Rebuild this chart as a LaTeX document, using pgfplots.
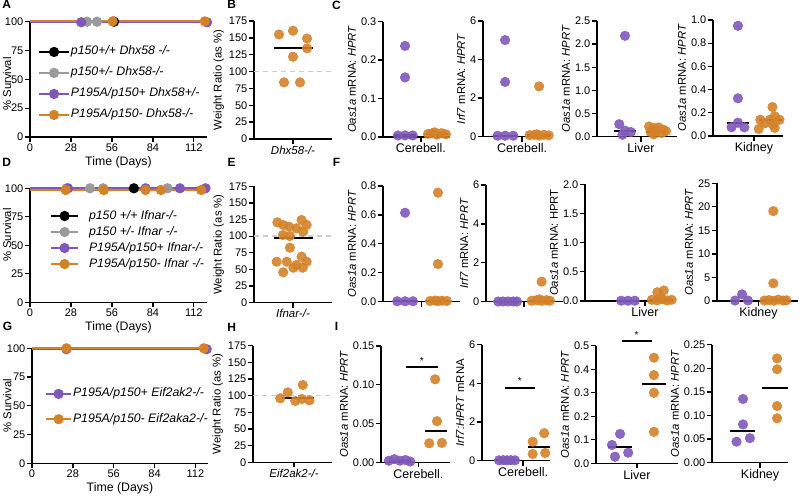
\documentclass[border=0pt]{standalone}
\usepackage{pgfplots}
\pgfplotsset{compat=1.18}
\usepackage{fontspec}
\setmainfont{Liberation Sans}
\definecolor{gpur}{RGB}{128,88,186}
\definecolor{gora}{RGB}{212,130,40}
\definecolor{ggry}{RGB}{155,155,155}
\definecolor{gdash}{RGB}{205,205,205}
\newcommand{\fsz}{\fontsize{11}{13}\selectfont}
\pgfplotsset{
  gp/.style={
    scale only axis, clip=false, anchor=south west,
    axis x line*=bottom, axis y line*=left,
    axis line style={line width=1.5pt, -},
    xtick pos=bottom, ytick pos=left,
    tick align=outside, major tick length=5pt,
    every tick/.style={black, line width=1.3pt},
    tick label style={font=\fsz, inner sep=1.5pt},
    ylabel style={font=\fontsize{11.3}{13}\selectfont},
    xlabel style={font=\fontsize{12.3}{14}\selectfont},
    /pgf/number format/assume math mode=true,
    ymin=0,
  },
  cat/.style={xtick={1.5}, xticklabels={#1}, xticklabel style={font=\fontsize{12.5}{14}\selectfont}},
  dots/.style={color=#1, only marks, mark=*, mark size=4.8pt, mark options={draw=none, fill=#1, fill opacity=0.9}},
  med/.style={black, line width=2pt},
  sig/.style={black, line width=1.5pt},
  surv/.style={color=#1, line width=1.8pt, mark=*, mark size=4.2pt, mark options={solid, draw=none, fill=#1}},
  survleg/.style={legend style={draw=none, fill=none, inner sep=0pt,
      font=\fontsize{12.3}{14}\selectfont\itshape,
      nodes={inner sep=1pt, text height=9pt, text depth=3pt}},
    legend cell align=left},
  wr/.style={gp, xmin=-1, xmax=1, ymax=175, ytick={0,25,50,75,100,125,150,175},
    xtick={0}, ylabel={Weight Ratio (as \%)}, xticklabel style={font=\fontsize{11.5}{13}\selectfont\itshape}},
  fix1/.style={yticklabel style={/pgf/number format/.cd, fixed, fixed zerofill, precision=1}},
  fix2/.style={yticklabel style={/pgf/number format/.cd, fixed, fixed zerofill, precision=2}},
}
\begin{document}
\begin{tikzpicture}
\path[use as bounding box] (0pt,0pt) rectangle (800pt,495pt);

% ---------------- A ----------------
\begin{axis}[gp, survleg, at={(30pt,358pt)}, width=177pt, height=115.3pt,
  xmin=0, xmax=121, ymax=100, xtick={0,28,56,84,112}, ytick={0,25,50,75,100},
  xlabel={Time (Days)}, ylabel={\% Survival},
  ylabel style={at={(axis description cs:-0.13,0.46)}, anchor=center},
  legend style={at={(axis description cs:0.045,0.80)}, anchor=north west, row sep=7pt},
  legend image code/.code={\draw[#1, mark indices={2}] plot coordinates {(0pt,0pt) (15pt,0pt) (30pt,0pt)};}]
\addplot[surv=black, mark indices={2}] coordinates {(0,100) (57.5,100)};
\addlegendentry{p150+/+ Dhx58 -/-}
\addplot[surv=ggry, mark indices={2,3}] coordinates {(0,100) (39,100) (45.8,100)};
\addlegendentry{p150+/- Dhx58-/-}
\addplot[surv=gpur, mark indices={2,3}] coordinates {(0,99.5) (35,99.5) (121,99.5)};
\addlegendentry{P195A/p150+ Dhx58+/-}
\addplot[surv=gora, mark indices={2,3}] coordinates {(0,100.3) (56.5,100.3) (119.5,100.3)};
\addlegendentry{P195A/p150- Dhx58-/-}
\end{axis}

% ---------------- B ----------------
\begin{axis}[wr, at={(254pt,356pt)}, width=78pt, height=118pt,
  xticklabels={Dhx58-/-}]
\addplot[gdash, line width=1.5pt, dash pattern=on 5pt off 4pt] coordinates {(-1,100) (1,100)};
\addplot[dots=gora] coordinates {(-0.36,155) (0,160.6) (0.36,149) (0.36,134.5) (0,122) (-0.23,84) (0.18,84)};
\addplot[med] coordinates {(-0.5,134.5) (0.5,134.5)};
\end{axis}

% ---------------- C1 ----------------
\begin{axis}[gp, fix1, cat={Cerebell.}, at={(383pt,358pt)}, width=67pt, height=115.3pt,
  xmin=0.31, xmax=2.41, ymax=0.3, ytick={0,0.1,0.2,0.3},
  ylabel={\textit{Oas1a} mRNA: \textit{HPRT}}]
\addplot[dots=gpur] coordinates {(1,0.237) (1,0.155) (0.78,0.004) (1,0.004) (1.24,0.004)};
\addplot[dots=gora] coordinates {(1.72,0.008) (1.86,0.01) (2,0.006) (2.14,0.01) (2.28,0.007) (1.93,0.012)};
\addplot[med] coordinates {(0.65,0.004) (1.35,0.004)};
\addplot[med] coordinates {(1.65,0.008) (2.35,0.008)};
\end{axis}

% ---------------- C2 ----------------
\begin{axis}[gp, cat={Cerebell.}, at={(483pt,358.3pt)}, width=67pt, height=115.7pt,
  xmin=0.35, xmax=2.32, ymax=6, ytick={0,2,4,6},
  ylabel={\textit{Irf7} mRNA: \textit{HPRT}}]
\addplot[dots=gpur] coordinates {(1,5.01) (1,2.84) (0.78,0.05) (1,0.05) (1.24,0.05)};
\addplot[dots=gora] coordinates {(2,2.61) (1.72,0.08) (1.86,0.1) (2,0.06) (2.14,0.1) (2.28,0.07) (1.93,0.12)};
\addplot[med] coordinates {(0.65,0.05) (1.35,0.05)};
\addplot[med] coordinates {(1.65,0.08) (2.35,0.08)};
\end{axis}

% ---------------- C3 ----------------
\begin{axis}[gp, fix1, cat={Liver}, at={(597pt,358.3pt)}, width=80pt, height=115.7pt,
  xmin=0.125, xmax=2.625, ymax=2.5, ytick={0,0.5,1,1.5,2,2.5},
  ylabel={\textit{Oas1a} mRNA: \textit{HPRT}}]
\addplot[dots=gpur] coordinates {(1,2.18) (0.82,0.27) (1,0.13) (1.18,0.1) (0.92,0.04)};
\addplot[dots=gora] coordinates {(1.75,0.22) (1.9,0.19) (2.05,0.2) (2.2,0.15) (1.8,0.1) (2,0.12) (2.15,0.08) (1.9,0.05) (2.28,0.12)};
\addplot[med] coordinates {(0.65,0.13) (1.35,0.13)};
\addplot[med] coordinates {(1.65,0.11) (2.35,0.11)};
\end{axis}

% ---------------- C4 ----------------
\begin{axis}[gp, fix1, cat={Kidney}, at={(713pt,359pt)}, width=70pt, height=116pt,
  xmin=0.22, xmax=2.41, ymax=1, ytick={0,0.2,0.4,0.6,0.8,1},
  ylabel={\textit{Oas1a} mRNA: \textit{HPRT}}]
\addplot[dots=gpur] coordinates {(1,0.95) (1,0.325) (1,0.115) (0.8,0.075) (1.2,0.075)};
\addplot[dots=gora] coordinates {(2.08,0.25) (2.15,0.17) (1.7,0.14) (2,0.14) (2.3,0.14) (1.85,0.11) (2.1,0.1) (1.65,0.06) (2.15,0.07)};
\addplot[med] coordinates {(0.65,0.115) (1.35,0.115)};
\addplot[med] coordinates {(1.65,0.14) (2.38,0.14)};
\end{axis}

% ---------------- D ----------------
\begin{axis}[gp, survleg, at={(30pt,192.7pt)}, width=177pt, height=114pt,
  xmin=0, xmax=121, ymax=100, xtick={0,28,56,84,112}, ytick={0,25,50,75,100},
  xlabel={Time (Days)}, ylabel={\% Survival},
  ylabel style={at={(axis description cs:-0.13,0.59)}, anchor=center},
  legend style={at={(axis description cs:0.113,0.82)}, anchor=north west, row sep=2pt, column sep=9pt},
  legend image code/.code={\draw[#1, mark indices={2}] plot coordinates {(0pt,0pt) (13.5pt,0pt) (27pt,0pt)};}]
\addplot[surv=black, mark indices={2}] coordinates {(0,100) (71,100)};
\addlegendentry{p150 +/+ Ifnar-/-}
\addplot[surv=ggry, mark indices={2,3,4,5}] coordinates {(0,100) (25,100) (41,100) (50,100) (94,100)};
\addlegendentry{p150 +/- Ifnar -/-}
\addplot[surv=gpur, mark indices={2,3,4,5}] coordinates {(0,100) (26,100) (79,100) (102.5,100) (120,100)};
\addlegendentry{P195A/p150+ Ifnar-/-}
\addplot[surv=gora, mark indices={2,3,4,5,6}] coordinates {(0,98.5) (24.4,98.5) (50.5,98.5) (79,98.5) (89.5,98.5) (117,98.5)};
\addlegendentry{P195A/p150- Ifnar -/-}
\end{axis}

% ---------------- E ----------------
\begin{axis}[wr, at={(254pt,192.3pt)}, width=78pt, height=116.4pt,
  xticklabels={Ifnar-/-}]
\addplot[gdash, line width=1.5pt, dash pattern=on 5pt off 4pt] coordinates {(-1,100) (1,100)};
\addplot[dots=gora] coordinates {(-0.40,120.8) (-0.25,116.8) (-0.10,114.3) (0.09,111.8) (0.22,124.3) (0.35,116.8) (-0.26,101.8) (-0.08,100.2) (0.26,106.8) (-0.08,82.7) (-0.42,61.6) (-0.16,61.6) (0.22,69.2) (0.35,61.6) (0.09,56.7) (-0.25,45.7) (0.01,52.6) (0.25,52.6)};
\addplot[med] coordinates {(-0.5,98) (0.5,98)};
\end{axis}

% ---------------- F1 ----------------
\begin{axis}[gp, fix1, cat={}, at={(383pt,193.3pt)}, width=77pt, height=115.7pt,
  xmin=0.33, xmax=2.67, ymax=0.8, ytick={0,0.2,0.4,0.6,0.8},
  ylabel={\textit{Oas1a} mRNA: \textit{HPRT}}]
\addplot[dots=gpur] coordinates {(1,0.615) (0.76,0.003) (1,0.003) (1.24,0.003)};
\addplot[dots=gora] coordinates {(2,0.754) (2,0.26) (1.76,0.005) (1.91,0.008) (2,0.004) (2.12,0.007) (2.27,0.005)};
\addplot[med] coordinates {(0.65,0.003) (1.35,0.003)};
\addplot[med] coordinates {(1.65,0.006) (2.35,0.006)};
\end{axis}

% ---------------- F2 ----------------
\begin{axis}[gp, cat={}, at={(486pt,193.3pt)}, width=77pt, height=116.7pt,
  xmin=0.31, xmax=2.72, ymax=6, ytick={0,2,4,6},
  ylabel={\textit{Irf7} mRNA: \textit{HPRT}}]
\addplot[dots=gpur] coordinates {(0.69,0.01) (0.84,0.01) (1,0.01) (1.16,0.01) (1.28,0.01)};
\addplot[dots=gora] coordinates {(2.05,1.03) (1.74,0.05) (1.9,0.08) (2.05,0.04) (2.2,0.08) (2.31,0.05) (1.98,0.12)};
\addplot[med] coordinates {(0.65,0.01) (1.35,0.01)};
\addplot[med] coordinates {(1.65,0.06) (2.4,0.06)};
\end{axis}

% ---------------- F3 ----------------
\begin{axis}[gp, fix1, cat={Liver}, at={(585pt,194pt)}, width=88pt, height=116.7pt,
  xmin=-0.26, xmax=2.32, ymax=2, ytick={0,0.5,1,1.5,2},
  ylabel={\textit{Oas1a} mRNA: HPRT}]
\addplot[dots=gpur] coordinates {(0.8,0.005) (1,0.005) (1.2,0.005)};
\addplot[dots=gora] coordinates {(1.86,0.15) (2.05,0.18) (1.7,0.02) (1.85,0.01) (2,0.03) (2.15,0.01) (2.28,0.02) (1.95,0.05)};
\addplot[med] coordinates {(0.65,0.005) (1.35,0.005)};
\addplot[med] coordinates {(1.65,0.02) (2.32,0.02)};
\end{axis}

% ---------------- F4 ----------------
\begin{axis}[gp, cat={Kidney}, at={(717pt,194pt)}, width=81pt, height=117.7pt,
  xmin=0.24, xmax=2.7, ymax=25, ytick={0,5,10,15,20,25},
  ylabel={\textit{Oas1a} mRNA: \textit{HPRT}}]
\addplot[dots=gpur] coordinates {(1,1.4) (0.79,0.1) (1.18,0.1)};
\addplot[dots=gora] coordinates {(1.95,19.1) (1.95,3.75) (1.68,0.1) (1.82,0.2) (1.96,0.05) (2.1,0.3) (2.25,0.1) (2.35,0.15)};
\addplot[med] coordinates {(0.65,0.1) (1.35,0.1)};
\addplot[med] coordinates {(1.65,0.15) (2.4,0.15)};
\end{axis}

% ---------------- G ----------------
\begin{axis}[gp, survleg, at={(32pt,31.7pt)}, width=176pt, height=115pt,
  xmin=0, xmax=120.6, ymax=100, xtick={0,28,56,84,112}, ytick={0,25,50,75,100},
  xlabel={Time (Days)}, ylabel={\% Survival},
  ylabel style={at={(axis description cs:-0.14,0.5)}, anchor=center},
  legend style={at={(axis description cs:0.074,0.666)}, anchor=north west, row sep=11.3pt},
  legend image code/.code={\draw[#1, mark indices={2}] plot coordinates {(0pt,0pt) (12.5pt,0pt) (25pt,0pt)};}]
\addplot[surv=gpur, mark indices={2,3}] coordinates {(0,99.2) (23.6,99.2) (119.7,99.2)};
\addlegendentry{P195A/p150+ Eif2ak2-/-}
\addplot[surv=gora, mark indices={2,3}] coordinates {(0,100) (23.6,100) (117.7,100)};
\addlegendentry{P195A/p150- Eif2aka2-/-}
\end{axis}

% ---------------- H ----------------
\begin{axis}[wr, at={(253pt,32.7pt)}, width=79pt, height=116.6pt, xmin=-1.04, xmax=0.96,
  xticklabels={Eif2ak2-/-}]
\addplot[gdash, line width=1.5pt, dash pattern=on 5pt off 4pt] coordinates {(-1.04,100) (0.96,100)};
\addplot[dots=gora] coordinates {(-0.16,105) (0.22,116) (-0.35,96) (0.03,92) (0.39,93) (0.2,95)};
\addplot[med] coordinates {(-0.3,96) (0.5,96)};
\end{axis}

% ---------------- I1 ----------------
\begin{axis}[gp, fix2, cat={Cerebell.}, at={(381pt,32.7pt)}, width=69pt, height=116.3pt,
  xmin=0.49, xmax=2.35, ymax=0.15, ytick={0,0.05,0.1,0.15},
  ylabel={\textit{Oas1a} mRNA: \textit{HPRT}}]
\addplot[dots=gpur] coordinates {(0.7,0.002) (0.85,0.004) (1,0.002) (1.15,0.003) (1.28,0.001)};
\addplot[dots=gora] coordinates {(1.95,0.107) (2,0.053) (1.79,0.0245) (2.13,0.025)};
\addplot[med] coordinates {(0.7,0.002) (1.3,0.002)};
\addplot[med] coordinates {(1.68,0.04) (2.26,0.04)};
\addplot[sig] coordinates {(1.16,0.123) (2.03,0.123)};
\node[font=\fontsize{10}{10}\selectfont] at (axis cs:1.59,0.131) {*};
\end{axis}

% ---------------- I2 ----------------
\begin{axis}[gp, cat={Cerebell.}, at={(482pt,34.3pt)}, width=68pt, height=116pt,
  xmin=0.22, xmax=2.34, ymax=6, ytick={0,2,4,6},
  ylabel={\textit{Irf7:HPRT} mRNA}]
\addplot[dots=gpur] coordinates {(0.75,0.02) (0.88,0.03) (1,0.02) (1.12,0.03) (1.25,0.02)};
\addplot[dots=gora] coordinates {(2.16,1.42) (1.8,0.98) (1.8,0.35) (2.19,0.4)};
\addplot[med] coordinates {(0.65,0.02) (1.35,0.02)};
\addplot[med] coordinates {(1.65,0.69) (2.35,0.69)};
\addplot[sig] coordinates {(0.94,3.75) (1.875,3.75)};
\node[font=\fontsize{10}{10}\selectfont] at (axis cs:1.4,4.1) {*};
\end{axis}

% ---------------- I3 ----------------
\begin{axis}[gp, fix1, cat={Liver}, at={(596pt,31.7pt)}, width=82pt, height=117.6pt,
  xmin=0.29, xmax=2.71, ymax=0.5, ytick={0,0.1,0.2,0.3,0.4,0.5},
  ylabel={\textit{Oas1a} mRNA: \textit{HPRT}}]
\addplot[dots=gpur] coordinates {(1,0.125) (0.76,0.078) (1.24,0.045) (0.85,0.028)};
\addplot[dots=gora] coordinates {(2,0.449) (2,0.375) (2,0.3) (2,0.134)};
\addplot[med] coordinates {(0.65,0.068) (1.35,0.068)};
\addplot[med] coordinates {(1.64,0.337) (2.37,0.337)};
\addplot[sig] coordinates {(1.05,0.52) (1.94,0.52)};
\node[font=\fontsize{10}{10}\selectfont] at (axis cs:1.49,0.545) {*};
\end{axis}

% ---------------- I4 ----------------
\begin{axis}[gp, fix2, cat={Kidney}, at={(712pt,32.3pt)}, width=76pt, height=118pt,
  xmin=0.09, xmax=2.32, ymax=0.25, ytick={0,0.05,0.1,0.15,0.2,0.25},
  ylabel={\textit{Oas1a} mRNA: \textit{HPRT}}]
\addplot[dots=gpur] coordinates {(1,0.135) (1,0.081) (0.81,0.0445) (1.2,0.052)};
\addplot[dots=gora] coordinates {(2,0.221) (2,0.198) (2,0.12) (2,0.094)};
\addplot[med] coordinates {(0.62,0.067) (1.35,0.067)};
\addplot[med] coordinates {(1.55,0.158) (2.33,0.158)};
\end{axis}

% ---------------- panel letters ----------------
\begin{scope}[every node/.style={font=\fontsize{12}{12}\selectfont\bfseries}]
\node at (6.7pt,491pt) {A};
\node at (231.7pt,491pt) {B};
\node at (336.5pt,490pt) {C};
\node at (6.7pt,332.5pt) {D};
\node at (231.7pt,332.5pt) {E};
\node at (336.5pt,332.5pt) {F};
\node at (7.5pt,168.5pt) {G};
\node at (231.7pt,168pt) {H};
\node at (336.5pt,169pt) {I};
\end{scope}
\end{tikzpicture}
\end{document}
